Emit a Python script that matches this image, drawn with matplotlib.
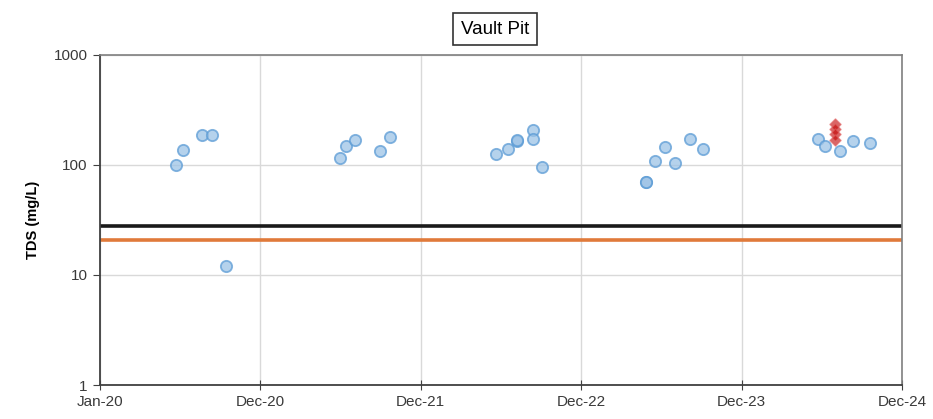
import numpy as np
import pandas as pd
import matplotlib
matplotlib.use('Agg')
import matplotlib.pyplot as plt
import matplotlib.dates as mdates
from matplotlib.ticker import FixedLocator, NullLocator, FixedFormatter

plt.rcParams['font.family'] = ['Liberation Sans', 'DejaVu Sans']

# blue circles: sample dates and TDS values (mg/L)
blue_dates = ['2020-06-23', '2020-07-09', '2020-08-19', '2020-09-11', '2020-10-14',
              '2021-06-30', '2021-07-14', '2021-08-03', '2021-09-29', '2021-10-22',
              '2022-06-19', '2022-07-18', '2022-08-06', '2022-08-06', '2022-09-13', '2022-09-13', '2022-10-03',
              '2023-05-27', '2023-05-27', '2023-06-18', '2023-07-10', '2023-08-01', '2023-09-04', '2023-10-04',
              '2024-06-22', '2024-07-08', '2024-08-11', '2024-09-10', '2024-10-19']
blue_tds = [100, 136, 188, 188, 12,
            115, 150, 170, 135, 181,
            125, 139, 164, 170, 210, 172, 95,
            70, 70, 108, 145, 105, 174, 140,
            173, 148, 135, 164, 160]

# red diamonds
red_dates = ['2024-07-30', '2024-07-30', '2024-07-30', '2024-07-30']
red_tds = [235, 212, 190, 168]

black_level = 28
orange_level = 21

x_start = '2020-01-01'
x_step_days = 365
n_ticks = 6

bd = pd.to_datetime(blue_dates)
rd = pd.to_datetime(red_dates)
ticks = [pd.Timestamp(x_start) + pd.Timedelta(days=x_step_days * k) for k in range(n_ticks)]

fig = plt.figure(figsize=(9.33, 4.19), dpi=100)
ax = fig.add_axes([100/933, 1-385/419, 802/933, 330/419])

ax.set_yscale('log')
ax.set_ylim(1, 1000)
ax.set_xlim(mdates.date2num(ticks[0]), mdates.date2num(ticks[-1]))

ax.grid(True, color='#d9d9d9', lw=1, zorder=0)
ax.set_axisbelow(True)

ax.axhline(black_level, color='#1a1a1a', lw=2.6, zorder=2)
ax.axhline(orange_level, color='#e07a3a', lw=2.6, zorder=2)

ax.scatter(mdates.date2num(bd), blue_tds, s=66, marker='o', facecolor='#9dc3e6',
           edgecolor='#5b9bd5', linewidths=1.3, alpha=0.75, zorder=3)
ax.scatter(mdates.date2num(rd), red_tds, s=32, marker='D', facecolor='#c00000',
           edgecolor='#e06060', linewidths=1.0, alpha=0.6, zorder=4)

ax.yaxis.set_major_locator(FixedLocator([1, 10, 100, 1000]))
ax.yaxis.set_major_formatter(FixedFormatter(['1', '10', '100', '1000']))
ax.yaxis.set_minor_locator(NullLocator())
ax.set_xticks([mdates.date2num(t) for t in ticks])
ax.set_xticklabels([t.strftime('%b-%y') for t in ticks])

ax.tick_params(axis='y', direction='out', length=5, color='#404040', labelsize=11,
               labelcolor='#3a3a3a', pad=4)
ax.tick_params(axis='x', direction='inout', length=7, color='#404040', labelsize=11,
               labelcolor='#3a3a3a', pad=4)

for s in ['left', 'bottom']:
    ax.spines[s].set_color('#404040')
    ax.spines[s].set_linewidth(1.3)
for s in ['top', 'right']:
    ax.spines[s].set_color('#7f7f7f')
    ax.spines[s].set_linewidth(1.2)

ax.set_ylabel('TDS (mg/L)', fontsize=10.5, fontweight='bold', labelpad=10)

fig.text(495/933, 1-29/419, 'Vault Pit', ha='center', va='center', fontsize=13.5,
         bbox=dict(boxstyle='square,pad=0.4', facecolor='white', edgecolor='#333333', lw=1.2))

fig.savefig('out.png', dpi=100)
